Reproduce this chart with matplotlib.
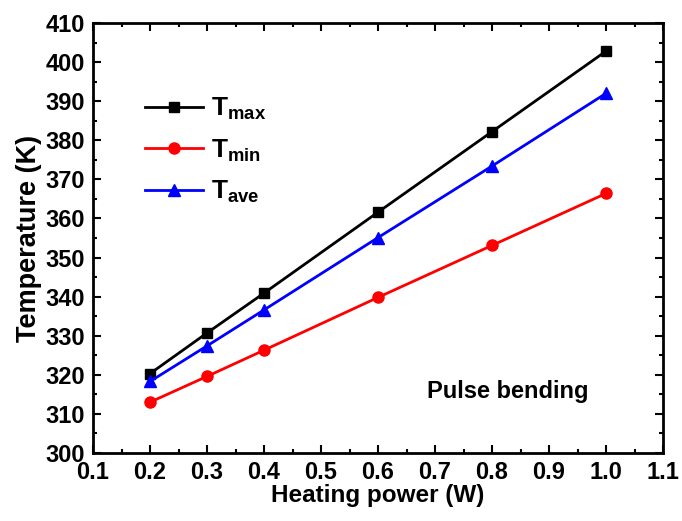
import matplotlib
matplotlib.use("Agg")
import matplotlib.pyplot as plt
from matplotlib.ticker import MultipleLocator

plt.rcParams['font.family'] = ['Liberation Sans', 'DejaVu Sans']
plt.rcParams['font.weight'] = 'bold'
plt.rcParams['mathtext.fontset'] = 'custom'
plt.rcParams['mathtext.rm'] = 'Liberation Sans:bold'
plt.rcParams['mathtext.bf'] = 'Liberation Sans:bold'
plt.rcParams['mathtext.it'] = 'Liberation Sans:bold'

power = [0.2, 0.3, 0.4, 0.6, 0.8, 1.0]
t_max = [320.3, 330.7, 340.9, 361.6, 382.2, 402.8]
t_min = [313.0, 319.6, 326.3, 339.8, 353.1, 366.4]
t_ave = [318.3, 327.4, 336.6, 355.1, 373.4, 392.0]
xticks = [0.1, 0.2, 0.3, 0.4, 0.5, 0.6, 0.7, 0.8, 0.9, 1.0, 1.1]
xticklabels = ['0.1', '0.2', '0.3', '0.4', '0.5', '0.6', '0.7', '0.8', '0.9', '1.0', '1.1']

fig = plt.figure(figsize=(6.82, 5.21), dpi=100)
ax = fig.add_axes([93/682, 68/521, 570/682, 430/521])

ax.plot(power, t_max, color='black', lw=2, marker='s', ms=7, label=r'T$_{\mathrm{max}}$')
ax.plot(power, t_min, color='red', lw=2, marker='o', ms=8, label=r'T$_{\mathrm{min}}$')
ax.plot(power, t_ave, color='blue', lw=2, marker='^', ms=9, label=r'T$_{\mathrm{ave}}$')

ax.set_xlim(0.1, 1.1)
ax.set_ylim(300, 410)
ax.set_xticks(xticks)
ax.set_xticklabels(xticklabels)
ax.xaxis.set_minor_locator(MultipleLocator(0.05))
ax.yaxis.set_major_locator(MultipleLocator(10))
ax.yaxis.set_minor_locator(MultipleLocator(5))
ax.tick_params(which='both', direction='in', top=True, right=True, labelsize=17, width=1.5)
ax.tick_params(which='major', length=5.5)
ax.tick_params(which='minor', length=2.8)
ax.tick_params(axis='x', pad=6)
ax.tick_params(axis='y', pad=6)
for s in ax.spines.values():
    s.set_linewidth(2)

ax.set_xlabel('Heating power (W)', fontsize=17.5, fontweight='bold', labelpad=0)
ax.set_ylabel('Temperature (K)', fontsize=19.5, fontweight='bold', labelpad=2)

ax.text(0.7277, 0.128, 'Pulse bending', transform=ax.transAxes, fontsize=17,
        fontweight='bold', ha='center', va='baseline')

leg = ax.legend(loc='upper left', bbox_to_anchor=(0.091, 0.83), frameon=False,
                fontsize=19, handlelength=2.2, labelspacing=0.58, handletextpad=0.3,
                borderaxespad=0, borderpad=0)

fig.savefig('out.png', dpi=100)
